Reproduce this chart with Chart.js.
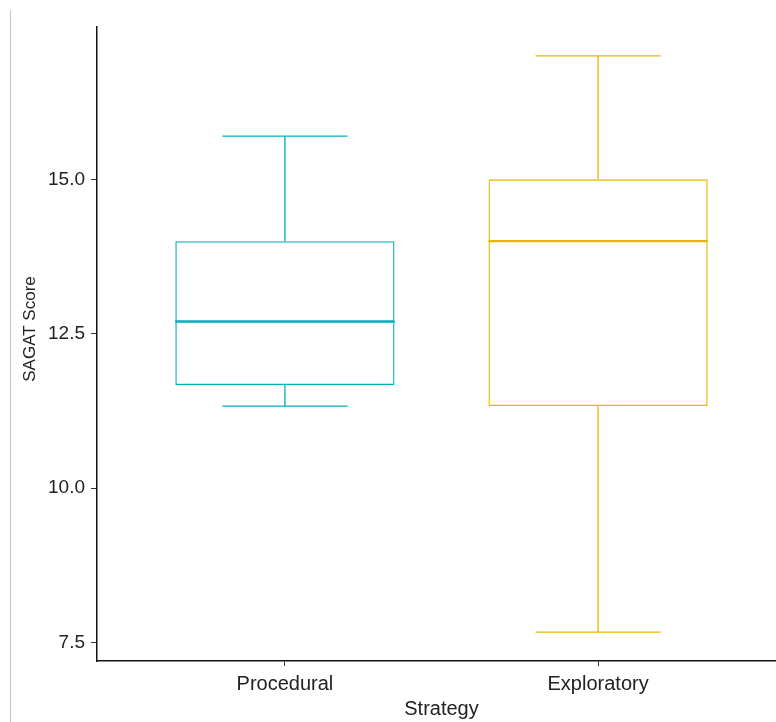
<!DOCTYPE html>
<html lang="en">
  <head>
    <meta charset="UTF-8" />
    <title>SAGAT Score by Strategy</title>
    <script src="https://cdn.jsdelivr.net/npm/chart.js@4.4.1/dist/chart.umd.min.js"></script>
    <style>
      body {
        margin: 0;
        width: 776px;
        height: 722px;
        overflow: hidden;
        background: #fff;
        position: relative;
      }
      #edge {
        position: absolute;
        left: 10px;
        top: 10px;
        width: 0;
        height: 712px;
        border-left: 1.5px solid #c4c4c4;
      }
      #wrap {
        position: absolute;
        left: 0;
        top: 0;
        width: 786px;
        height: 722px;
      }
    </style>
  </head>
  <body>
    <div id="edge"></div>
    <div id="wrap">
      <canvas id="box-chart" width="786" height="722"></canvas>
    </div>

    <script>
      // data
      const strategies = ["Procedural", "Exploratory"];
      const lowerWhisker = [11.33, 7.67];
      const q1 = [11.67, 11.33];
      const median = [12.7, 14.0];
      const q3 = [14.0, 15.0];
      const upperWhisker = [15.7, 17.0];
      const yTicks = [7.5, 10.0, 12.5, 15.0];

      const boxColors = ["#00AFBB", "#E7B800"];
      const FONT = "'Liberation Sans', Arial, sans-serif";

      // whiskers, caps and median lines, placed through the chart scales
      const boxPlotLines = {
        id: "boxPlotLines",
        afterDatasetsDraw(chart) {
          const { ctx } = chart;
          const x = chart.scales.x;
          const y = chart.scales.y;
          const bars = chart.getDatasetMeta(0).data;
          ctx.save();
          bars.forEach((bar, i) => {
            const cx = x.getPixelForValue(i + 1);
            const capL = x.getPixelForValue(i + 1 - 0.2);
            const capR = x.getPixelForValue(i + 1 + 0.2);
            ctx.strokeStyle = boxColors[i];
            ctx.lineWidth = 1.3;
            ctx.beginPath();
            ctx.moveTo(cx, y.getPixelForValue(q3[i]));
            ctx.lineTo(cx, y.getPixelForValue(upperWhisker[i]));
            ctx.moveTo(cx, y.getPixelForValue(q1[i]));
            ctx.lineTo(cx, y.getPixelForValue(lowerWhisker[i]));
            ctx.moveTo(capL, y.getPixelForValue(upperWhisker[i]));
            ctx.lineTo(capR, y.getPixelForValue(upperWhisker[i]));
            ctx.moveTo(capL, y.getPixelForValue(lowerWhisker[i]));
            ctx.lineTo(capR, y.getPixelForValue(lowerWhisker[i]));
            ctx.stroke();

            ctx.lineWidth = 2.4;
            ctx.beginPath();
            ctx.moveTo(bar.x - bar.width / 2, y.getPixelForValue(median[i]));
            ctx.lineTo(bar.x + bar.width / 2, y.getPixelForValue(median[i]));
            ctx.stroke();
          });
          ctx.restore();
        },
      };

      // y title sits a little above the panel centre in the picture
      const yTitle = {
        id: "yTitle",
        afterDraw(chart) {
          const { ctx } = chart;
          ctx.save();
          ctx.translate(30.5, 329);
          ctx.rotate(-Math.PI / 2);
          ctx.font = "17px " + FONT;
          ctx.fillStyle = "#222";
          ctx.textAlign = "center";
          ctx.textBaseline = "middle";
          ctx.fillText("SAGAT Score", 0, 0);
          ctx.restore();
        },
      };

      const allValues = lowerWhisker.concat(upperWhisker);
      const dataMin = Math.min(...allValues);
      const dataMax = Math.max(...allValues);
      const pad = (dataMax - dataMin) * 0.05;

      const ctx = document.getElementById("box-chart").getContext("2d");
      const chart = new Chart(ctx, {
        type: "bar",
        data: {
          datasets: [
            {
              data: strategies.map((s, i) => ({ x: i + 1, y: [q1[i], q3[i]] })),
              backgroundColor: "rgba(255,255,255,0)",
              borderColor: boxColors,
              borderWidth: 1.3,
              borderSkipped: false,
              categoryPercentage: 1,
              barPercentage: 0.7,
            },
          ],
        },
        options: {
          responsive: false,
          animation: false,
          layout: { padding: { top: 27, left: 0, right: 0, bottom: 0 } },
          plugins: {
            legend: { display: false },
            tooltip: { enabled: false },
          },
          scales: {
            x: {
              type: "linear",
              min: 0.4,
              max: 2.6,
              offset: false,
              afterBuildTicks: (scale) => {
                scale.ticks = strategies.map((s, i) => ({ value: i + 1 }));
              },
              afterFit: (scale) => {
                scale.height = 61;
              },
              ticks: {
                callback: (v, i) => strategies[i],
                color: "#222",
                font: { family: FONT, size: 20 },
                padding: 6,
                maxRotation: 0,
              },
              grid: {
                offset: false,
                drawOnChartArea: false,
                drawTicks: true,
                tickLength: 5,
                color: "#333",
              },
              border: { color: "#111", width: 1.5 },
              title: {
                display: true,
                text: "Strategy",
                color: "#222",
                font: { family: FONT, size: 20 },
                padding: { top: 0, bottom: 1 },
              },
            },
            y: {
              min: dataMin - pad,
              max: dataMax + pad,
              afterBuildTicks: (scale) => {
                scale.ticks = yTicks.map((v) => ({ value: v }));
              },
              afterFit: (scale) => {
                scale.width = 97;
              },
              ticks: {
                callback: (v) => Number(v).toFixed(1),
                color: "#222",
                font: { family: FONT, size: 19 },
                padding: 6,
              },
              grid: {
                drawOnChartArea: false,
                drawTicks: true,
                tickLength: 6,
                color: "#333",
              },
              border: { color: "#111", width: 1.5 },
            },
          },
        },
        plugins: [boxPlotLines, yTitle],
      });
    </script>
  </body>
</html>
